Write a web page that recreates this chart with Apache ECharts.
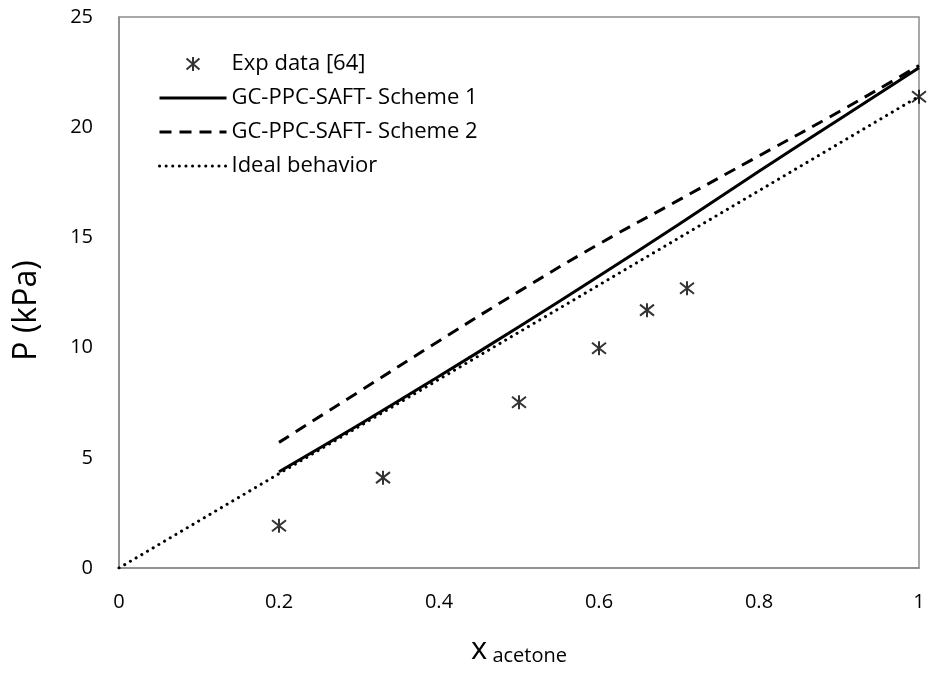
<!DOCTYPE html>
<html>
<head>
<meta charset="utf-8">
<script src="https://cdn.jsdelivr.net/npm/echarts@6/dist/echarts.min.js"></script>
<style>html,body{margin:0;padding:0;background:#fff}#c{width:937px;height:686px}</style>
</head>
<body>
<div id="c"></div>
<script>
const expX = [0.2, 0.33, 0.5, 0.6, 0.66, 0.71, 1.0];
const expP = [1.92, 4.1, 7.52, 9.97, 11.7, 12.69, 21.38];
const s1X = [0.2, 0.3, 0.4, 0.5, 0.6, 0.7, 0.8, 0.9, 1.0];
const s1P = [4.37, 6.5, 8.7, 10.95, 13.25, 15.6, 18.0, 20.35, 22.7];
const s2X = [0.2, 0.3, 0.4, 0.5, 0.6, 0.7, 0.8, 0.9, 1.0];
const s2P = [5.7, 8.0, 10.3, 12.55, 14.7, 16.7, 18.7, 20.7, 22.8];
const idealX = [0, 0.5, 1.0];
const idealP = [0, 10.7, 21.4];
const xTicks = [0, 0.2, 0.4, 0.6, 0.8, 1];
const yTicks = [0, 5, 10, 15, 20, 25];
const names = ['Exp data [64]', 'GC-PPC-SAFT- Scheme 1', 'GC-PPC-SAFT- Scheme 2', 'Ideal behavior'];

const zip = (a, b) => a.map((v, i) => [v, b[i]]);
const FONT = 'Open Sans';
const asterisk = 'path://M7,0L7,14M0.5,1.5L13.5,12.5M0.5,12.5L13.5,1.5';

const chart = echarts.init(document.getElementById('c'));
chart.setOption({
  animation: false,
  textStyle: { fontFamily: FONT, color: '#000' },
  grid: { left: 119, right: 18, top: 17, bottom: 118, show: true, borderColor: '#8c8c8c', borderWidth: 1.5 },
  xAxis: {
    type: 'value', min: 0, max: 1, interval: 0.2,
    axisLine: { show: true, lineStyle: { color: '#8c8c8c', width: 1.5 } },
    axisTick: { show: false }, splitLine: { show: false },
    axisLabel: { fontSize: 20, color: '#000', fontFamily: FONT, margin: 24,
      formatter: v => { const t = xTicks.find(x => Math.abs(x - v) < 1e-9); return t === undefined ? '' : String(t); } },
    name: '{a|x}{b| acetone}', nameLocation: 'middle', nameGap: 62,
    nameTextStyle: { rich: {
      a: { fontSize: 31, fontFamily: FONT, color: '#000', verticalAlign: 'bottom', lineHeight: 36 },
      b: { fontSize: 20, fontFamily: FONT, color: '#000', verticalAlign: 'bottom', lineHeight: 22, padding: [0, 0, 0, 0] } } }
  },
  yAxis: {
    type: 'value', min: 0, max: 25, interval: 5,
    axisLine: { show: true, lineStyle: { color: '#8c8c8c', width: 1.5 } },
    axisTick: { show: false }, splitLine: { show: false },
    axisLabel: { fontSize: 20, color: '#000', fontFamily: FONT, margin: 26,
      formatter: v => { const t = yTicks.find(y => Math.abs(y - v) < 1e-9); return t === undefined ? '' : String(t); } },
    name: 'P (kPa)', nameLocation: 'middle', nameGap: 76, nameRotate: 90,
    nameTextStyle: { fontSize: 32, fontFamily: FONT, color: '#000', padding: [0, 36, 0, 0] }
  },
  legend: {
    orient: 'vertical', left: 153, top: 48, itemWidth: 67, itemHeight: 14, itemGap: 12,
    textStyle: { fontSize: 22, fontFamily: FONT, color: '#000', lineHeight: 22 },
    lineStyle: { width: 3 },
    data: [
      { name: names[0] },
      { name: names[1], itemStyle: { opacity: 0 } },
      { name: names[2], itemStyle: { opacity: 0 } },
      { name: names[3], itemStyle: { opacity: 0 } }
    ]
  },
  series: [
    { name: names[0], type: 'scatter', data: zip(expX, expP), symbol: asterisk, symbolSize: [14, 14], clip: false,
      itemStyle: { color: 'transparent', borderColor: '#000', borderWidth: 2 } },
    { name: names[1], type: 'line', data: zip(s1X, s1P), smooth: true, symbol: 'none',
      lineStyle: { color: '#000', width: 3 }, itemStyle: { color: '#000' } },
    { name: names[2], type: 'line', data: zip(s2X, s2P), smooth: true, symbol: 'none',
      lineStyle: { color: '#000', width: 3, type: [12, 8] }, itemStyle: { color: '#000' } },
    { name: names[3], type: 'line', data: zip(idealX, idealP), symbol: 'none',
      lineStyle: { color: '#000', width: 3, type: [0.1, 6.5], cap: 'round' }, itemStyle: { color: '#000' } }
  ]
});
</script>
</body>
</html>
